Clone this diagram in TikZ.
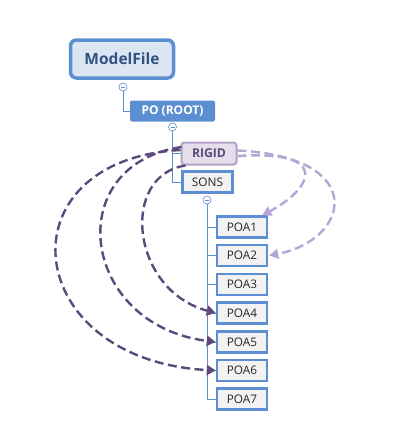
\documentclass[tikz,border=0pt]{standalone}
\usepackage{fontspec}
\setmainfont{Open Sans}
\usetikzlibrary{arrows.meta}
\definecolor{mblue}{HTML}{5B8FD1}
\definecolor{lblue}{HTML}{DCE6F2}
\definecolor{tblue}{HTML}{2F5183}
\definecolor{rpfill}{HTML}{E5DFEC}
\definecolor{rpline}{HTML}{B3A2C7}
\definecolor{rptext}{HTML}{5F497A}
\definecolor{dpurple}{HTML}{5B4A7B}
\definecolor{lpurple}{HTML}{B4A7D6}
\definecolor{gfill}{HTML}{F2F2F2}
\tikzset{
  mfbox/.style={draw=mblue,line width=3.5pt,fill=lblue,rounded corners=6pt,minimum width=103pt,minimum height=38pt,inner sep=0pt,font=\fontsize{15.5}{18}\selectfont\bfseries,text=tblue},
  rootbox/.style={fill=mblue,rounded corners=2pt,minimum width=85pt,minimum height=21pt,inner sep=0pt,font=\fontsize{12}{14}\selectfont\bfseries,text=white},
  rigidbox/.style={draw=rpline,line width=2pt,fill=rpfill,rounded corners=3pt,minimum width=55pt,minimum height=22pt,inner sep=0pt,font=\fontsize{12.2}{14}\selectfont\bfseries,text=rptext},
  leafbox/.style={draw=mblue,line width=2.5pt,fill=gfill,minimum width=50pt,minimum height=21pt,inner sep=0pt,font=\fontsize{11.8}{14}\selectfont,text=black!85},
  toggle/.style={circle,draw=mblue,line width=0.6pt,fill=white,minimum size=8pt,inner sep=0pt,
    path picture={\draw[mblue,line width=0.6pt] ([xshift=-2pt]path picture bounding box.center) -- ([xshift=2pt]path picture bounding box.center);}},
  tree/.style={draw=mblue,line width=0.8pt},
  darc/.style={dpurple,line width=2.4pt,dash pattern=on 9pt off 4.5pt,-{Triangle[length=9pt,width=10pt]}},
  larc/.style={lpurple,line width=2.4pt,dash pattern=on 9pt off 4.5pt,-{Triangle[length=9pt,width=10pt]}}
}
\begin{document}
\begin{tikzpicture}[x=1pt,y=-1pt]
\useasboundingbox (0,0) rectangle (413,447);
\node[mfbox] (mf) at (122,59) {ModelFile};
\node[rootbox] (po) at (172.5,111) {PO (ROOT)};
\node[rigidbox] (rigid) at (209,153.5) {RIGID};
\node[leafbox] (sons) at (207.5,182) {SONS};
\foreach \i/\y in {1/227,2/255.5,3/284.5,4/313,5/342,6/370.5,7/399}{
  \node[leafbox] (poa\i) at (242,\y) {POA\i};
}
\node[toggle] (t1) at (123,87) {};
\node[toggle] (t2) at (172.5,127) {};
\node[toggle] (t3) at (207,200) {};
\draw[tree] (t1.south) |- (po.west);
\draw[tree] (t2.south) |- (rigid.west);
\draw[tree] (t2.south) |- (sons.west);
\foreach \i in {1,...,7}{
  \draw[tree] (t3.south) |- (poa\i.west);
}
% light arcs
\draw[larc] ([yshift=-2.5pt]rigid.east) .. controls (335,150) and (310,190) .. ([xshift=-6pt]poa1.north east);
\draw[larc] ([yshift=3pt]rigid.east) .. controls (370,157) and (350,240) .. ([xshift=1pt]poa2.east);
% dark arcs
\draw[darc] ([yshift=3.5pt]rigid.west) .. controls (0,160) and (20,360) .. (poa6.west);
\draw[darc] ([yshift=6.5pt,xshift=1pt]rigid.west) .. controls (60,165) and (80,325) .. (poa5.west);
\draw[darc] ([xshift=5pt,yshift=0pt]rigid.south west) .. controls (120,175) and (130,290) .. (poa4.west);
\end{tikzpicture}
\end{document}
